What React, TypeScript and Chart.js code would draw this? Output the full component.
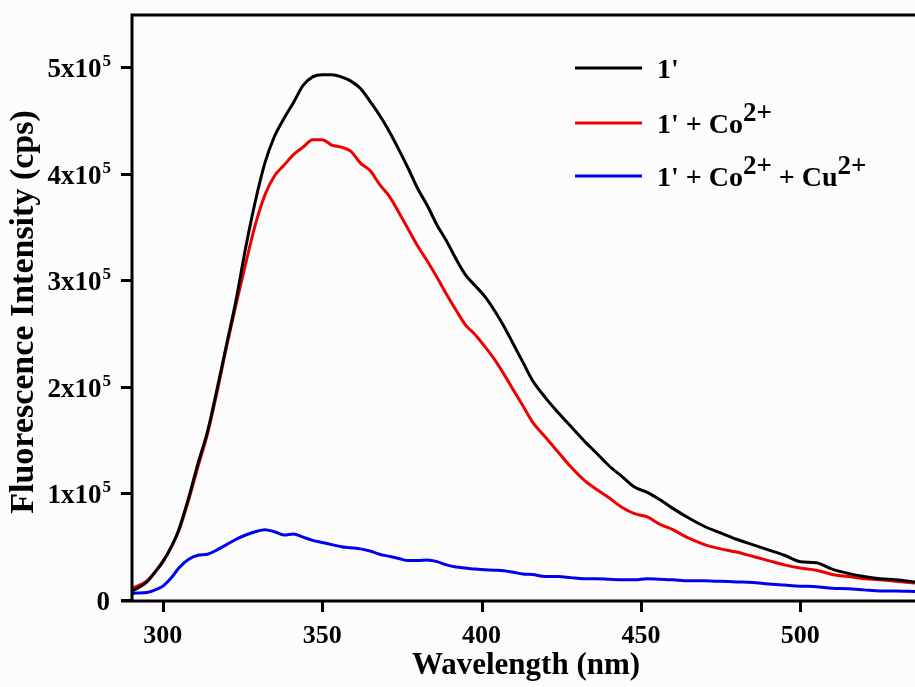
import React, { useEffect, useRef } from "react";
import { Chart, registerables } from "chart.js";

Chart.register(...registerables);

// Wavelength (nm)
const wavelengths = [
  290, 292, 295, 298, 300, 303, 305, 308, 311, 314, 317, 320, 323, 326, 329, 332, 335, 338, 341, 344,
  347, 350, 353, 356, 359, 362, 365, 368, 371, 374, 377, 380, 383, 386, 389, 392, 395, 398, 401, 404,
  407, 410, 413, 416, 420, 424, 428, 432, 436, 440, 444, 448, 452, 456, 460, 465, 470, 475, 480, 485,
  490, 495, 500, 505, 510, 515, 520, 525, 530, 536,
];

// 1'
const intensity1 = [
  8000, 11000, 17000, 28000, 36000, 52000, 66000, 95000, 128000, 158000, 198000, 240000, 282000, 331000, 374000, 410000, 435000, 452000, 467000, 483000,
  491000, 493000, 493000, 491000, 487000, 480000, 468000, 455000, 440000, 423000, 405000, 386000, 370000, 352000, 337000, 320000, 305000, 295000, 285000, 272000,
  257000, 240000, 223000, 206000, 190000, 176000, 163000, 150000, 138000, 126000, 116000, 106000, 101000, 94000, 86000, 77000, 69000, 63000, 57000, 52000,
  47000, 42000, 36000, 35000, 29000, 25000, 22000, 20000, 19000, 17000,
];

// 1' + Co2+
const intensityCo = [
  11000, 13000, 18000, 28000, 36000, 52000, 65000, 93000, 125000, 156000, 195000, 238000, 278000, 316000, 352000, 380000, 398000, 408000, 418000, 425000,
  432000, 432000, 427000, 425000, 421000, 410000, 403000, 390000, 379000, 364000, 348000, 332000, 318000, 303000, 287000, 272000, 258000, 249000, 238000, 226000,
  212000, 197000, 182000, 167000, 153000, 139000, 125000, 113000, 104000, 96000, 87000, 81000, 78000, 71000, 66000, 58000, 52000, 48000, 45000, 41000,
  37000, 33000, 30000, 28000, 24000, 22000, 20000, 19000, 17500, 16000,
];

// 1' + Co2+ + Cu2+
const intensityCoCu = [
  6300, 6500, 7000, 10000, 13000, 22000, 30000, 38000, 42000, 43000, 47000, 52000, 57000, 61000, 64000, 66000, 64000, 61000, 62000, 59000,
  56000, 54000, 52000, 50000, 49000, 48000, 46000, 43000, 41000, 39000, 37000, 37000, 37500, 36000, 33000, 31000, 30000, 29000, 28500, 28000,
  27500, 26000, 24500, 24000, 22000, 22000, 21000, 20000, 20000, 19500, 19000, 19000, 20000, 19500, 19000, 18000, 18000, 17500, 17000, 16500,
  15000, 14000, 13000, 12500, 11000, 10500, 9500, 8500, 8400, 8000,
];

const xTicks = [300, 350, 400, 450, 500];
const xTickLabels = ["300", "350", "400", "450", "500"];
const yTicks = [0, 100000, 200000, 300000, 400000, 500000];
const yTickBase = ["0", "1x10", "2x10", "3x10", "4x10", "5x10"];
const yTickExp = ["", "5", "5", "5", "5", "5"];

const seriesColors = ["#000000", "#ee0000", "#0000ee"];
// legend label segments: [normal, superscript, normal, superscript...]
const legendLabels = [["1'"], ["1' + Co", "2+"], ["1' + Co", "2+", " + Cu", "2+"]];

const xTitle = "Wavelength (nm)";
const yTitle = "Fluorescence Intensity (cps)";

const FONT = '"Liberation Serif", "Times New Roman", serif';

const decorPlugin = {
  id: "decor",
  beforeDraw(chart: any) {
    const ctx = chart.ctx;
    ctx.save();
    ctx.fillStyle = "#fcfcfc";
    ctx.fillRect(0, 0, chart.width, chart.height);
    ctx.restore();
  },
  afterDraw(chart: any) {
    const ctx = chart.ctx;
    const { left, top, right, bottom } = chart.chartArea;
    const xs = chart.scales.x;
    const ys = chart.scales.y;
    ctx.save();
    ctx.strokeStyle = "#000";
    ctx.fillStyle = "#000";
    ctx.lineWidth = 3;
    ctx.lineCap = "butt";
    // frame
    ctx.beginPath();
    ctx.moveTo(left + 1, bottom + 1);
    ctx.lineTo(left + 1, top + 1);
    ctx.lineTo(right + 2, top + 1);
    ctx.moveTo(left - 10, bottom + 1);
    ctx.lineTo(right + 2, bottom + 1);
    ctx.stroke();
    // ticks
    ctx.beginPath();
    yTicks.forEach((v) => {
      const py = Math.round(ys.getPixelForValue(v)) + 0.5;
      ctx.moveTo(left - 10, py);
      ctx.lineTo(left, py);
    });
    xTicks.forEach((v) => {
      const px = Math.round(xs.getPixelForValue(v)) + 0.5;
      ctx.moveTo(px, bottom);
      ctx.lineTo(px, bottom + 12);
    });
    ctx.stroke();

    // x tick labels
    ctx.font = `bold 26px ${FONT}`;
    ctx.textAlign = "center";
    ctx.textBaseline = "alphabetic";
    xTicks.forEach((v, i) => {
      const px = xs.getPixelForValue(v);
      ctx.fillText(xTickLabels[i], px, 643);
    });

    // y tick labels
    ctx.textAlign = "left";
    yTicks.forEach((v, i) => {
      const py = ys.getPixelForValue(v);
      ctx.font = `bold 27px ${FONT}`;
      const wb = ctx.measureText(yTickBase[i]).width;
      ctx.font = `bold 17px ${FONT}`;
      const we = yTickExp[i] ? ctx.measureText(yTickExp[i]).width : 0;
      const x0 = 110 - wb - we;
      ctx.font = `bold 27px ${FONT}`;
      ctx.fillText(yTickBase[i], x0, py + 10);
      if (yTickExp[i]) {
        ctx.font = `bold 17px ${FONT}`;
        ctx.fillText(yTickExp[i], x0 + wb + 1, py - 1);
      }
    });

    // axis titles
    ctx.font = `bold 31px ${FONT}`;
    ctx.textAlign = "center";
    ctx.fillText(xTitle, 526, 674);
    ctx.font = `bold 34px ${FONT}`;
    ctx.save();
    ctx.translate(33, 312);
    ctx.rotate(-Math.PI / 2);
    ctx.fillText(yTitle, 0, 0);
    ctx.restore();

    // legend
    const legendY = [68, 123, 176];
    legendLabels.forEach((segs, i) => {
      const y = legendY[i];
      ctx.strokeStyle = seriesColors[i];
      ctx.lineWidth = 3;
      ctx.beginPath();
      ctx.moveTo(575, y);
      ctx.lineTo(642, y);
      ctx.stroke();
      let x = 657;
      ctx.textAlign = "left";
      segs.forEach((s, j) => {
        const sup = j % 2 === 1;
        ctx.font = sup ? `bold 27px ${FONT}` : `bold 28px ${FONT}`;
        ctx.fillText(s, x, sup ? y - 2 : y + 10);
        x += ctx.measureText(s).width;
      });
    });
    ctx.restore();
  },
};

export default function App() {
  const ref = useRef<HTMLCanvasElement | null>(null);
  useEffect(() => {
    if (!ref.current) return;
    const mk = (arr: number[]) => wavelengths.map((w, i) => ({ x: w, y: arr[i] }));
    const chart = new Chart(ref.current, {
      type: "line",
      data: {
        datasets: [
          { label: "1'", data: mk(intensity1), borderColor: seriesColors[0] },
          { label: "1' + Co2+", data: mk(intensityCo), borderColor: seriesColors[1] },
          { label: "1' + Co2+ + Cu2+", data: mk(intensityCoCu), borderColor: seriesColors[2] },
        ].map((d) => ({ ...d, borderWidth: 3, pointRadius: 0, cubicInterpolationMode: "monotone" as const, fill: false })),
      },
      options: {
        animation: false,
        responsive: false,
        devicePixelRatio: 1,
        layout: { padding: { left: 131, top: 14, right: 0, bottom: 87 } },
        plugins: { legend: { display: false }, tooltip: { enabled: false } },
        scales: {
          x: { type: "linear", min: 290, max: 536, display: false },
          y: { type: "linear", min: 0, max: 550000, display: false },
        },
      },
      plugins: [decorPlugin],
    });
    return () => chart.destroy();
  }, []);
  return (
    <div style={{ position: "absolute", left: 0, top: 0, width: 915, height: 687 }}>
      <canvas ref={ref} width={915} height={687} style={{ display: "block" }} />
    </div>
  );
}
